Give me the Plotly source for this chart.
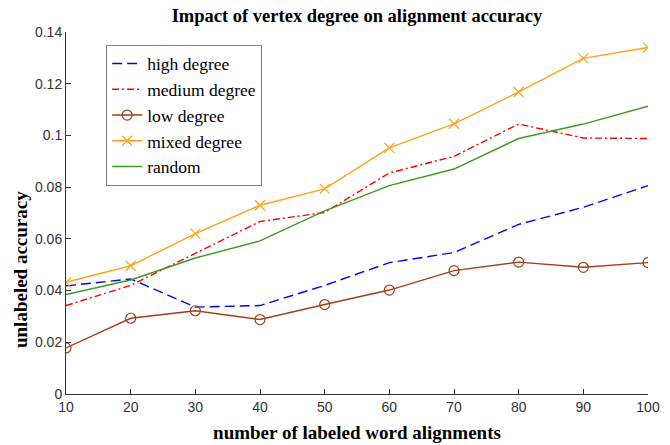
import plotly.graph_objects as go

x_vals = [10, 20, 30, 40, 50, 60, 70, 80, 90, 100]
high_degree = [0.0418, 0.0445, 0.0336, 0.0342, 0.0420, 0.0508, 0.0547, 0.0656, 0.0722, 0.0806]
medium_degree = [0.0342, 0.0420, 0.0544, 0.0667, 0.0702, 0.0855, 0.0919, 0.1044, 0.0990, 0.0988]
low_degree = [0.0178, 0.0293, 0.0322, 0.0288, 0.0346, 0.0402, 0.0477, 0.0510, 0.0490, 0.0508]
mixed_degree = [0.0432, 0.0496, 0.0620, 0.0730, 0.0793, 0.0952, 0.1045, 0.1168, 0.1298, 0.1340]
random_vals = [0.0385, 0.0441, 0.0526, 0.0592, 0.0708, 0.0806, 0.0870, 0.0988, 0.1044, 0.1113]
y_ticks = [0, 0.02, 0.04, 0.06, 0.08, 0.1, 0.12, 0.14]
y_tick_labels = ["0", "0.02", "0.04", "0.06", "0.08", "0.1", "0.12", "0.14"]

fig = go.Figure()
fig.add_trace(go.Scatter(x=x_vals, y=high_degree, mode="lines", name="high degree",
                         line=dict(color="#0000ff", width=1.4, dash="10px,5px")))
fig.add_trace(go.Scatter(x=x_vals, y=medium_degree, mode="lines", name="medium degree",
                         line=dict(color="#ff0000", width=1.4, dash="7px,3px,2px,3px")))
fig.add_trace(go.Scatter(x=x_vals, y=low_degree, mode="lines+markers", name="low degree",
                         line=dict(color="#a0401a", width=1.4),
                         marker=dict(symbol="circle-open", size=10, color="#a0401a", line=dict(width=1.2))))
fig.add_trace(go.Scatter(x=x_vals, y=mixed_degree, mode="lines+markers", name="mixed degree",
                         line=dict(color="#ffa31a", width=1.4),
                         marker=dict(symbol="x-thin-open", size=10, color="#ffa31a", line=dict(width=1.2, color="#ffa31a"))))
fig.add_trace(go.Scatter(x=x_vals, y=random_vals, mode="lines", name="random",
                         line=dict(color="#3d9a1f", width=1.4)))

fig.update_layout(
    width=670, height=445,
    margin=dict(l=66, r=22, t=32, b=51, autoexpand=False),
    paper_bgcolor="white", plot_bgcolor="white",
    title=dict(text="<b>Impact of vertex degree on alignment accuracy</b>",
               x=0.5328, xanchor="center", y=0.966, yanchor="middle",
               font=dict(family="Liberation Serif", size=18.5, color="#000000")),
    xaxis=dict(range=[10, 100], tickvals=x_vals, ticks="inside", ticklen=5, automargin=False,
               showline=True, linecolor="#333333", linewidth=1, showgrid=False, zeroline=False,
               tickcolor="#333333",
               tickfont=dict(family="Liberation Sans", size=14, color="#333333"),
               title=dict(text="<b>number of labeled word alignments</b>", standoff=11,
                          font=dict(family="Liberation Serif", size=19, color="#000000"))),
    yaxis=dict(range=[0, 0.14], tickvals=y_ticks, ticktext=y_tick_labels, ticks="inside", ticklen=5,
               automargin=False,
               showline=True, linecolor="#333333", linewidth=1, showgrid=False, zeroline=False,
               tickcolor="#333333",
               tickfont=dict(family="Liberation Sans", size=14, color="#333333")),
    legend=dict(x=0.069, y=0.965, xanchor="left", yanchor="top",
                bgcolor="white", bordercolor="#808080", borderwidth=1,
                font=dict(family="Liberation Serif", size=17.5, color="#000000"),
                itemwidth=30),
    showlegend=True,
    annotations=[dict(text="<b>unlabeled accuracy</b>", textangle=-90,
                      xref="paper", yref="paper", x=-0.079, y=0.3425,
                      xanchor="center", yanchor="middle", showarrow=False,
                      font=dict(family="Liberation Serif", size=19, color="#000000"))],
)

fig.write_html("out.html", config={"displayModeBar": False},
               post_script="document.body.style.margin='0';")
